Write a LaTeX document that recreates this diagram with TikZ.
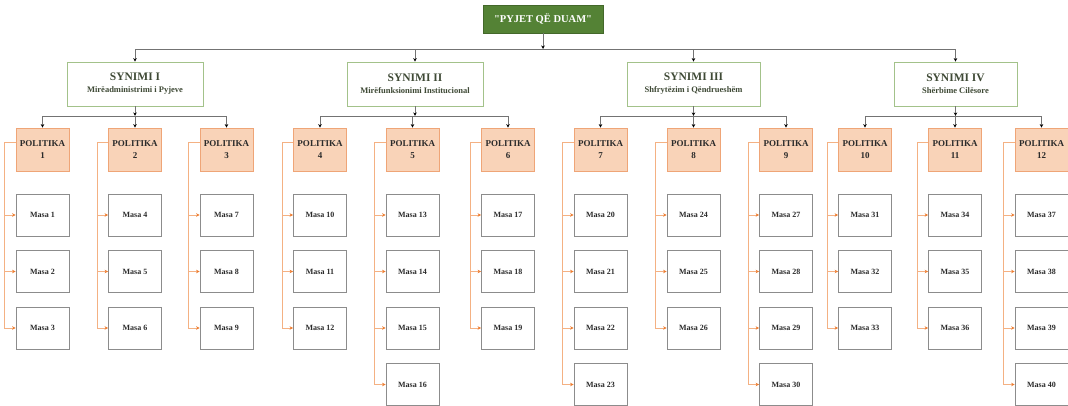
\documentclass[tikz,border=0pt]{standalone}
\usepackage{fontspec}
\setmainfont{Liberation Serif}
\usepackage{tikz}
\usetikzlibrary{arrows.meta,positioning,calc}

\definecolor{titlegreen}{HTML}{548235}
\definecolor{synborder}{HTML}{A3C28A}
\definecolor{syntext}{HTML}{3F4A36}
\definecolor{polfill}{HTML}{F9D3B8}
\definecolor{polborder}{HTML}{EFA577}
\definecolor{orline}{HTML}{F4B183}
\definecolor{orarrow}{HTML}{ED7D31}
\definecolor{masaborder}{HTML}{8C8C8C}
\definecolor{txtdark}{HTML}{2B2B2B}

\tikzset{
    titlebox/.style={draw=titlegreen!80!black, fill=titlegreen, text=white, font=\bfseries\fontsize{10.5}{11}\selectfont, minimum width=120pt, minimum height=28pt, inner sep=1pt},
    synbox/.style={draw=synborder, line width=0.8pt, fill=white, text=syntext, align=center, font=\bfseries\fontsize{11.5}{12}\selectfont, minimum height=44pt, inner sep=1pt},
    polbox/.style={draw=polborder, line width=0.8pt, fill=polfill, text=txtdark, align=center, font=\bfseries\fontsize{9}{12.5}\selectfont, minimum width=53pt, minimum height=43pt, inner sep=1pt},
    masabox/.style={draw=masaborder, line width=0.8pt, fill=white, text=txtdark, font=\bfseries\fontsize{8}{9}\selectfont, minimum width=53pt, minimum height=42pt, inner sep=1pt},
    down/.style={draw=gray!90!black, line width=0.7pt, -{Stealth[length=3.5pt,width=3.5pt,black]}},
    tomasa/.style={draw=orline, line width=0.7pt, -{Stealth[length=3.5pt,width=3.5pt,orarrow]}}
}
\newcommand{\subline}[1]{{\fontsize{8.5}{10}\selectfont #1}}

\begin{document}
\begin{tikzpicture}[x=1pt,y=-1pt]
    \useasboundingbox (0,0) rectangle (1068,406);

    \node[titlebox] (title) at (543,19) {\textquotedbl PYJET QË DUAM\textquotedbl};
    \coordinate (bus0) at (543,49);

    \node[synbox, minimum width=136pt] (syn1) at (135,84) {SYNIMI I\\\subline{Mirëadministrimi i Pyjeve}};
    \node[synbox, minimum width=136pt] (syn2) at (415,84) {SYNIMI II\\\subline{Mirëfunksionimi Institucional}};
    \node[synbox, minimum width=133pt] (syn3) at (693.5,84) {SYNIMI III\\\subline{Shfrytëzim i Qëndrueshëm}};
    \node[synbox, minimum width=123pt] (syn4) at (955.5,84) {SYNIMI IV\\\subline{Shërbime Cilësore}};

    \draw[down] (title.south) -- (bus0);
    \foreach \s in {1,...,4}
        \draw[down] (bus0) -| (syn\s.north);

    \foreach \p/\x in {1/42.5, 2/135, 3/226.5, 4/320, 5/412.5, 6/508,
                       7/600.5, 8/693.5, 9/786, 10/865, 11/955, 12/1041.5}
        \node[polbox] (pol\p) at (\x,149.5) {POLITIKA\\\p};

    \foreach \s/\a/\b/\c in {1/1/2/3, 2/4/5/6, 3/7/8/9, 4/10/11/12} {
        \coordinate (bus\s) at ($(syn\s.south)+(0,9.5)$);
        \draw[down] (syn\s.south) -- (bus\s);
        \draw[down] (bus\s) -| (pol\a.north);
        \draw[down] (bus\s) -| (pol\b.north);
        \draw[down] (bus\s) -| (pol\c.north);
    }

    \foreach \p/\first/\last in {1/1/3, 2/4/6, 3/7/9, 4/10/12, 5/13/16, 6/17/19,
                                 7/20/23, 8/24/26, 9/27/30, 10/31/33, 11/34/36, 12/37/40} {
        \foreach \m [count=\r] in {\first,...,\last} {
            \pgfmathsetmacro{\ypos}{215+(\r-1)*56.5}
            \node[masabox] (masa\m) at (pol\p.center |- 0,\ypos) {Masa \m};
            \draw[tomasa] ([yshift=7.5pt]pol\p.west) -- ++(-11,0) |- (masa\m.west);
        }
    }
\end{tikzpicture}
\end{document}
